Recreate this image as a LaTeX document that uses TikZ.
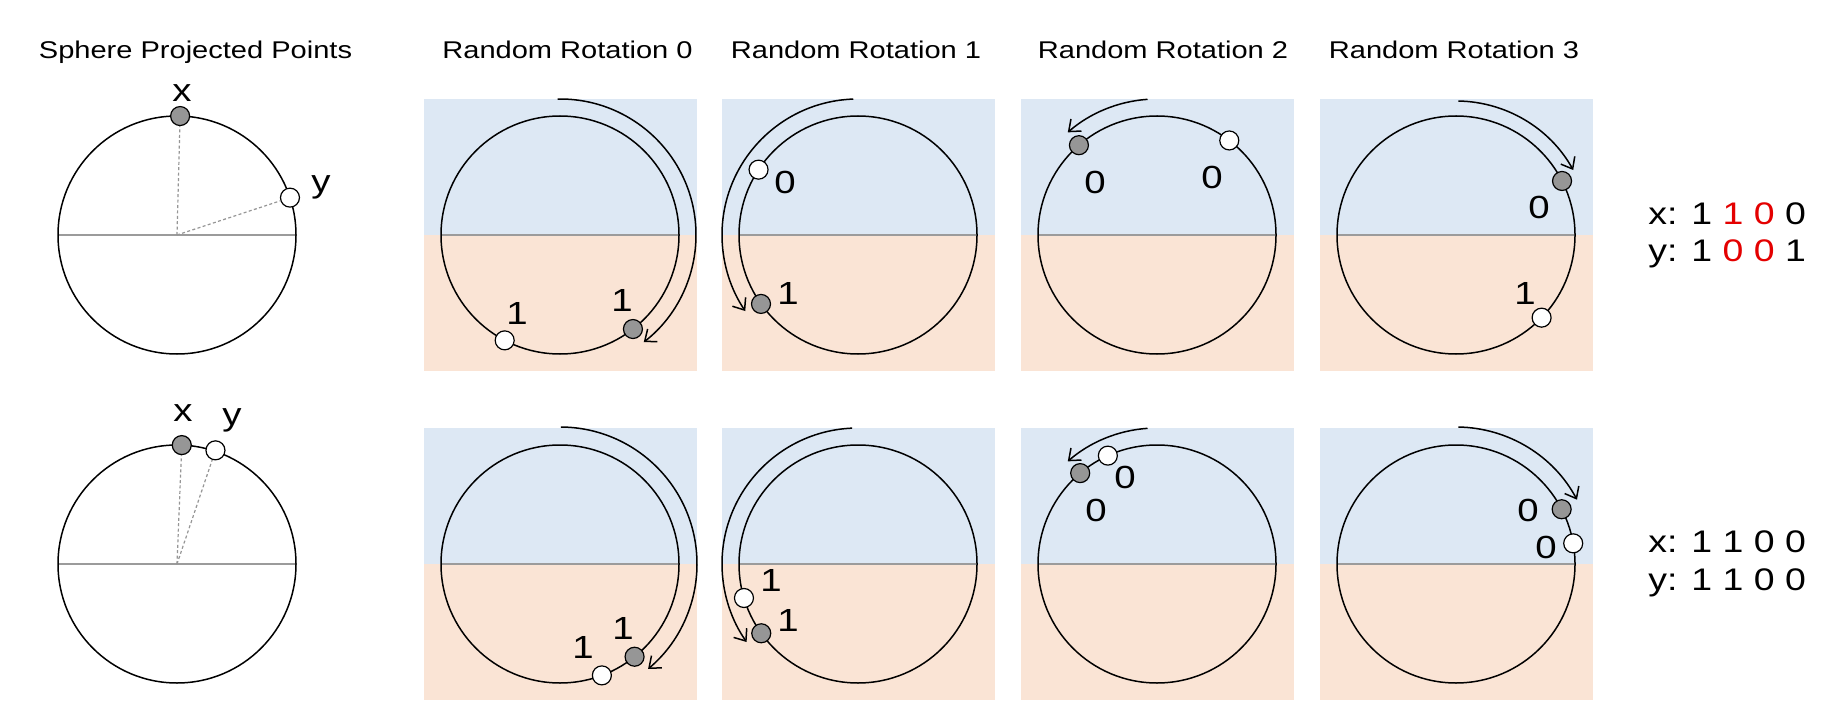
\documentclass[tikz,border=0pt]{standalone}
\usepackage{fontspec}
\setmainfont{Liberation Sans}[FakeStretch=1.2]
\usetikzlibrary{arrows.meta}
\definecolor{skyfill}{RGB}{221,232,244}
\definecolor{peachfill}{RGB}{250,228,213}
\definecolor{ptgray}{RGB}{150,150,150}
\definecolor{divgray}{RGB}{155,155,155}
\definecolor{hired}{RGB}{228,0,0}
\tikzset{
  ring/.style={draw=black, line width=0.75pt},
  divider/.style={draw=divgray, line width=0.7pt},
  rotarrow/.style={draw=black, line width=0.75pt, -{Straight Barb[length=5pt,width=8pt]}},
  gpt/.style={circle, draw=black, line width=0.6pt, fill=ptgray, minimum size=9.5pt, inner sep=0pt},
  wpt/.style={gpt, fill=white},
  bit/.style={inner sep=0pt, font=\fontsize{16}{19}\selectfont},
  ttl/.style={anchor=base, inner sep=0pt, font=\fontsize{12.1}{14}\selectfont},
  codeline/.style={anchor=base west, inner sep=0pt, font=\fontsize{15.6}{18}\selectfont},
  proj/.style={draw=ptgray, line width=0.6pt, dash pattern=on 1.5pt off 1.2pt},
}
\newcommand{\panelbg}[1]{%
  \fill[skyfill] ([shift={(-136.5,0)}]#1) rectangle ([shift={(136.5,136)}]#1);
  \fill[peachfill] ([shift={(-136.5,-136)}]#1) rectangle ([shift={(136.5,0)}]#1);
  \draw[divider] ([shift={(-119,0)}]#1) -- ([shift={(119,0)}]#1);
  \draw[ring] (#1) circle[radius=119];
}
\begin{document}
\begin{tikzpicture}[x=0.5pt,y=0.5pt]
\fill[white] (0,0) rectangle (1836,724);
\useasboundingbox (0,0) rectangle (1836,724);

% centres
\coordinate (cL1) at (177,489);
\coordinate (cL2) at (177,160);
\coordinate (cA1) at (560,489);
\coordinate (cB1) at (858,489);
\coordinate (cC1) at (1157,489);
\coordinate (cD1) at (1456,489);
\coordinate (cA2) at (560,160);
\coordinate (cB2) at (858,160);
\coordinate (cC2) at (1157,160);
\coordinate (cD2) at (1456,160);

% titles
\node[ttl] (tL) at (195.5,665) {Sphere Projected Points};
\node[ttl] (tA) at (567.5,665) {Random Rotation 0};
\node[ttl] (tB) at (856,665) {Random Rotation 1};
\node[ttl] (tC) at (1163,665) {Random Rotation 2};
\node[ttl] (tD) at (1454,665) {Random Rotation 3};

% ---------- left circles ----------
\draw[divider] ([shift={(-119,0)}]cL1) -- ([shift={(119,0)}]cL1);
\draw[ring] (cL1) circle[radius=119];
\node[gpt] (xL1) at ([shift={(88.5:119)}]cL1) {};
\node[wpt] (yL1) at ([shift={(18.3:119)}]cL1) {};
\draw[proj] (cL1) -- (xL1);
\draw[proj] (cL1) -- (yL1);
\node[bit] (lxL1) at (182,630.5) {x};
\node[bit] (lyL1) at (321,537) {y};

\draw[divider] ([shift={(-119,0)}]cL2) -- ([shift={(119,0)}]cL2);
\draw[ring] (cL2) circle[radius=119];
\node[gpt] (xL2) at ([shift={(87.7:119)}]cL2) {};
\node[wpt] (yL2) at ([shift={(71.3:120)}]cL2) {};
\draw[proj] (cL2) -- (xL2);
\draw[proj] (cL2) -- (yL2);
\node[bit] (lxL2) at (183,310.7) {x};
\node[bit] (lyL2) at (232,303.2) {y};

% ---------- row 1 panels ----------
\panelbg{cA1}
\draw[rotarrow] ([shift={(91:136)}]cA1) arc[start angle=91, end angle=-52, radius=136];
\node[wpt] (wA1) at ([shift={(-117.7:119)}]cA1) {};
\node[gpt] (gA1) at ([shift={(-52.2:119)}]cA1) {};
\node[bit] (bwA1) at (517,411) {1};
\node[bit] (bgA1) at (622,424) {1};

\panelbg{cB1}
\draw[rotarrow] ([shift={(92:136)}]cB1) arc[start angle=92, end angle=214, radius=136];
\node[wpt] (wB1) at ([shift={(146.7:119)}]cB1) {};
\node[gpt] (gB1) at ([shift={(215.4:119)}]cB1) {};
\node[bit] (bwB1) at (785,542) {0};
\node[bit] (bgB1) at (788,431) {1};

\panelbg{cC1}
\draw[rotarrow] ([shift={(94:136)}]cC1) arc[start angle=94, end angle=131, radius=136];
\node[gpt] (gC1) at ([shift={(131:119)}]cC1) {};
\node[wpt] (wC1) at ([shift={(52.6:119)}]cC1) {};
\node[bit] (bgC1) at (1095,542) {0};
\node[bit] (bwC1) at (1212,547) {0};

\panelbg{cD1}
\draw[rotarrow] ([shift={(89:134)}]cD1) arc[start angle=89, end angle=29, radius=134];
\node[gpt] (gD1) at ([shift={(27:119)}]cD1) {};
\node[wpt] (wD1) at ([shift={(-44:119)}]cD1) {};
\node[bit] (bgD1) at (1539,517) {0};
\node[bit] (bwD1) at (1525,431) {1};

\node[codeline] (xcode1) at (1648,499) {x: 1 \textcolor{hired}{1 0} 0};
\node[codeline] (ycode1) at (1648,462) {y: 1 \textcolor{hired}{0 0} 1};

% ---------- row 2 panels ----------
\panelbg{cA2}
\draw[rotarrow] ([shift={(89.6:137)}]cA2) arc[start angle=89.6, end angle=-50, radius=137];
\node[wpt] (wA2) at ([shift={(-69.4:119)}]cA2) {};
\node[gpt] (gA2) at ([shift={(-51.2:119)}]cA2) {};
\node[bit] (bwA2) at (583,77) {1};
\node[bit] (bgA2) at (623,96) {1};

\panelbg{cB2}
\draw[rotarrow] ([shift={(92.5:136)}]cB2) arc[start angle=92.5, end angle=215, radius=136];
\node[wpt] (wB2) at ([shift={(196.6:119)}]cB2) {};
\node[gpt] (gB2) at ([shift={(215.6:119)}]cB2) {};
\node[bit] (bwB2) at (771,144) {1};
\node[bit] (bgB2) at (788,104) {1};

\panelbg{cC2}
\draw[rotarrow] ([shift={(94:136)}]cC2) arc[start angle=94, end angle=131, radius=136];
\node[gpt] (gC2) at ([shift={(130.2:119)}]cC2) {};
\node[wpt] (wC2) at ([shift={(114.4:119)}]cC2) {};
\node[bit] (bgC2) at (1096,214) {0};
\node[bit] (bwC2) at (1125,247) {0};

\panelbg{cD2}
\draw[rotarrow] ([shift={(89:137)}]cD2) arc[start angle=89, end angle=28, radius=137];
\node[gpt] (gD2) at ([shift={(27.4:119)}]cD2) {};
\node[wpt] (wD2) at ([shift={(10:119)}]cD2) {};
\node[bit] (bgD2) at (1528,214) {0};
\node[bit] (bwD2) at (1546,177) {0};

\node[codeline] (xcode2) at (1648,172) {x: 1 1 0 0};
\node[codeline] (ycode2) at (1648,134) {y: 1 1 0 0};
\end{tikzpicture}
\end{document}
